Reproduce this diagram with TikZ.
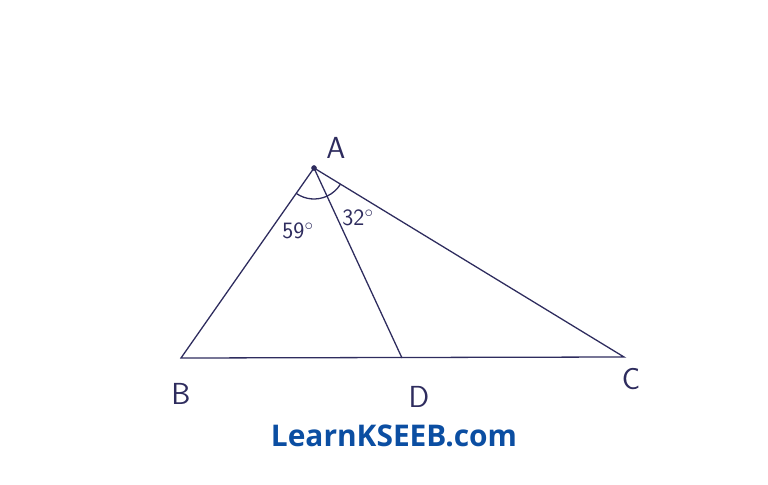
\documentclass[tikz,border=0pt]{standalone}
\usepackage{fontspec}
\usetikzlibrary{calc}
\newfontfamily\markfont{Open Sans}
\definecolor{ink}{HTML}{2E2C5E}
\definecolor{markblue}{HTML}{0B4EA2}
\tikzset{
  side/.style={ink, line width=1.1pt},
  vlabel/.style={ink, font=\sffamily\fontsize{26}{26}\selectfont},
  alabel/.style={ink, font=\sffamily\fontsize{20}{20}\selectfont}
}
\begin{document}
\begin{tikzpicture}[x=0.03cm,y=-0.03cm]
			\useasboundingbox (0,0) rectangle (768,485);
			\coordinate (A) at (314,168);
			\coordinate (B) at (181,358);
			\coordinate (D) at (402,358);
			\coordinate (C) at (624,357);
			\draw[side] (A)--(B)--(C)--cycle;
			\draw[side] (A)--(D);
			% angle marks at A
			\draw[side] ($(A)+(125:31)$) arc (125:65.2:31);
			\draw[side] ($(A)+(65.2:31)$) arc (65.2:31.4:31);
			\filldraw[ink] (A) circle (2.5);
			\node[vlabel] (lA) at (336,148) {A};
			\node[vlabel] (lB) at (181,394) {B};
			\node[vlabel] (lD) at (419,397) {D};
			\node[vlabel] (lC) at (631,379) {C};
			\node[alabel] (a59) at (298,231) {59$^\circ$};
			\node[alabel] (a32) at (358,218) {32$^\circ$};
			\node[markblue, font=\markfont\bfseries\fontsize{25.5}{25.5}\selectfont] (mark) at (394,436) {LearnKSEEB.com};
		\end{tikzpicture}
\end{document}
